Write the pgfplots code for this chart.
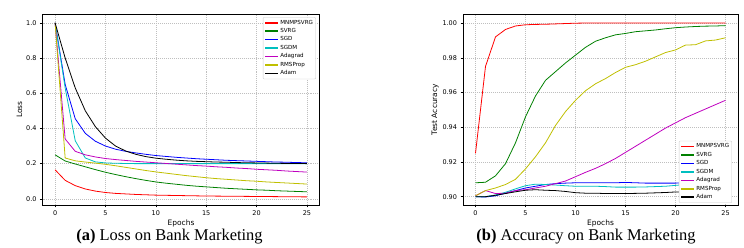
\documentclass[border=0pt]{standalone}
\usepackage{fontspec}
\setmainfont{Liberation Serif}
\newfontfamily\dv{DejaVu Sans}
\usepackage{pgfplots}
\usepackage{pgfplotstable}
\pgfplotsset{compat=1.18}
\definecolor{mgreen}{HTML}{008000}
\definecolor{mcyan}{HTML}{00BFBF}
\definecolor{mmag}{HTML}{BF00BF}
\definecolor{myel}{HTML}{BFBF00}

\pgfplotstableread{
ep mnm svrg sgd sgdm ada rms adam
0 0.165 0.250 1.000 1.000 1.000 1.000 1.000
1 0.105 0.215 0.650 0.630 0.340 0.232 0.800
2 0.075 0.198 0.455 0.330 0.270 0.216 0.630
3 0.056 0.182 0.372 0.232 0.250 0.209 0.500
4 0.044 0.166 0.327 0.210 0.238 0.203 0.410
5 0.036 0.151 0.300 0.204 0.229 0.196 0.345
6 0.031 0.138 0.282 0.202 0.223 0.188 0.300
7 0.028 0.126 0.270 0.201 0.218 0.179 0.272
8 0.025 0.115 0.261 0.200 0.213 0.170 0.253
9 0.023 0.105 0.253 0.200 0.209 0.161 0.240
10 0.021 0.096 0.246 0.200 0.205 0.153 0.231
11 0.020 0.089 0.241 0.200 0.201 0.146 0.225
12 0.019 0.083 0.236 0.200 0.197 0.139 0.220
13 0.018 0.077 0.232 0.200 0.193 0.132 0.216
14 0.017 0.072 0.228 0.200 0.189 0.126 0.213
15 0.016 0.068 0.225 0.200 0.186 0.120 0.211
16 0.0155 0.064 0.222 0.200 0.182 0.115 0.209
17 0.015 0.060 0.219 0.200 0.179 0.111 0.208
18 0.0145 0.057 0.217 0.200 0.175 0.107 0.206
19 0.014 0.054 0.215 0.200 0.172 0.103 0.205
20 0.0135 0.051 0.213 0.200 0.168 0.100 0.204
21 0.013 0.049 0.211 0.200 0.165 0.096 0.203
22 0.0125 0.046 0.209 0.200 0.162 0.093 0.202
23 0.012 0.044 0.208 0.200 0.158 0.090 0.201
24 0.0115 0.042 0.206 0.200 0.155 0.087 0.201
25 0.011 0.040 0.205 0.200 0.152 0.084 0.200
}\losstab

\pgfplotstableread{
ep mnm svrg sgd sgdm ada rms adam
0 0.925 0.9080 0.9000 0.9000 0.9005 0.9005 0.9000
1 0.975 0.9083 0.8998 0.9000 0.9035 0.9035 0.9000
2 0.992 0.9120 0.9005 0.9010 0.9018 0.9050 0.9008
3 0.9963 0.9190 0.9020 0.9025 0.9020 0.9070 0.9018
4 0.9983 0.9310 0.9035 0.9045 0.9035 0.9100 0.9028
5 0.9990 0.9460 0.9050 0.9063 0.9040 0.9160 0.9037
6 0.9992 0.9580 0.9060 0.9072 0.9050 0.9230 0.9040
7 0.9993 0.9670 0.9070 0.9070 0.9060 0.9310 0.9037
8 0.9995 0.9720 0.9075 0.9067 0.9075 0.9410 0.9035
9 0.9997 0.9770 0.9078 0.9063 0.9090 0.9490 0.9030
10 0.9999 0.9815 0.9080 0.9060 0.9115 0.9555 0.9023
11 1.0000 0.9860 0.9080 0.9060 0.9140 0.9610 0.9020
12 1.0000 0.9895 0.9080 0.9060 0.9163 0.9650 0.9020
13 1.0000 0.9915 0.9080 0.9058 0.9190 0.9680 0.9018
14 1.0000 0.9932 0.9080 0.9055 0.9220 0.9715 0.9018
15 1.0000 0.9940 0.9082 0.9055 0.9255 0.9745 0.9018
16 1.0000 0.9950 0.9080 0.9055 0.9290 0.9760 0.9019
17 1.0000 0.9955 0.9078 0.9056 0.9325 0.9780 0.9020
18 1.0000 0.9960 0.9078 0.9058 0.9360 0.9805 0.9022
19 1.0000 0.9967 0.9078 0.9060 0.9395 0.9830 0.9024
20 1.0000 0.9973 0.9078 0.9065 0.9425 0.9845 0.9027
21 1.0000 0.9977 0.9080 0.9070 0.9455 0.9873 0.9028
22 1.0000 0.9980 0.9080 0.9072 0.9480 0.9875 0.9029
23 1.0000 0.9982 0.9080 0.9073 0.9505 0.9897 0.9030
24 1.0000 0.9983 0.9080 0.9074 0.9530 0.9902 0.9030
25 1.0000 0.9985 0.9080 0.9075 0.9555 0.9915 0.9030
}\acctab

\pgfplotsset{
  mystyle/.style={
    scale only axis,
    anchor=south west,
    xmin=-1.25, xmax=26.25,
    xtick={0,5,10,15,20,25},
    grid=major,
    grid style={gray!50, dash pattern=on 1pt off 1pt, line width=0.4pt},
    axis line style={line width=0.6pt},
    tick style={black, line width=0.5pt},
    tick align=outside,
    major tick length=2.5bp,
    xtick pos=bottom, ytick pos=left,
    /pgf/number format/assume math mode=true,
    tick label style={font=\dv\fontsize{6.5}{7}\selectfont},
    label style={font=\dv\fontsize{7.5}{8}\selectfont},
    xlabel={Epochs},
    xlabel style={yshift=3bp},
    ylabel style={yshift=-3bp},
    every axis plot/.append style={line width=0.8pt},
    legend cell align=left,
    legend image code/.code={\draw[#1, line width=1.5pt] (0bp,0bp) -- (13bp,0bp);},
    legend style={font=\dv\fontsize{5.6}{6}\selectfont, draw=black!20, rounded corners=1pt,
      fill=white, inner sep=1.3pt, row sep=0pt,
      nodes={inner sep=1.4pt}},
  }
}

\begin{document}
\begin{tikzpicture}
\path[use as bounding box] (0,0) rectangle (744bp,248bp);
\begin{axis}[mystyle,
  at={(42.5bp,43bp)}, width=277bp, height=191bp,
  ymin=-0.035, ymax=1.05,
  ytick={0,0.2,0.4,0.6,0.8,1.0},
  yticklabel style={/pgf/number format/fixed, /pgf/number format/fixed zerofill, /pgf/number format/precision=1},
  ylabel={Loss},
  legend style={at={(rel axis cs:0.987,0.984)}, anchor=north east},
]
\addplot[red] table[x=ep,y=mnm] {\losstab};
\addplot[mgreen] table[x=ep,y=svrg] {\losstab};
\addplot[blue] table[x=ep,y=sgd] {\losstab};
\addplot[mcyan] table[x=ep,y=sgdm] {\losstab};
\addplot[mmag] table[x=ep,y=ada] {\losstab};
\addplot[myel] table[x=ep,y=rms] {\losstab};
\addplot[black] table[x=ep,y=adam] {\losstab};
\legend{MNMPSVRG,SVRG,SGD,SGDM,Adagrad,RMSProp,Adam}
\end{axis}
\begin{axis}[mystyle,
  at={(463bp,43bp)}, width=275bp, height=191bp,
  ymin=0.8952, ymax=1.0052,
  ytick={0.90,0.92,0.94,0.96,0.98,1.00},
  yticklabel style={/pgf/number format/fixed, /pgf/number format/fixed zerofill, /pgf/number format/precision=2},
  ylabel={Test Accuracy},
  legend style={at={(rel axis cs:0.978,0.0105)}, anchor=south east},
]
\addplot[red] table[x=ep,y=mnm] {\acctab};
\addplot[mgreen] table[x=ep,y=svrg] {\acctab};
\addplot[blue] table[x=ep,y=sgd] {\acctab};
\addplot[mcyan] table[x=ep,y=sgdm] {\acctab};
\addplot[mmag] table[x=ep,y=ada] {\acctab};
\addplot[myel] table[x=ep,y=rms] {\acctab};
\addplot[black] table[x=ep,y=adam] {\acctab};
\legend{MNMPSVRG,SVRG,SGD,SGDM,Adagrad,RMSProp,Adam}
\end{axis}
\node[anchor=base, font=\fontsize{16.5}{18}\selectfont, inner sep=0pt] at (169.5bp,8bp) {\textbf{(a)} Loss on Bank Marketing};
\node[anchor=base, font=\fontsize{16.5}{18}\selectfont, inner sep=0pt] at (586bp,8bp) {\textbf{(b)} Accuracy on Bank Marketing};
\end{tikzpicture}
\end{document}
